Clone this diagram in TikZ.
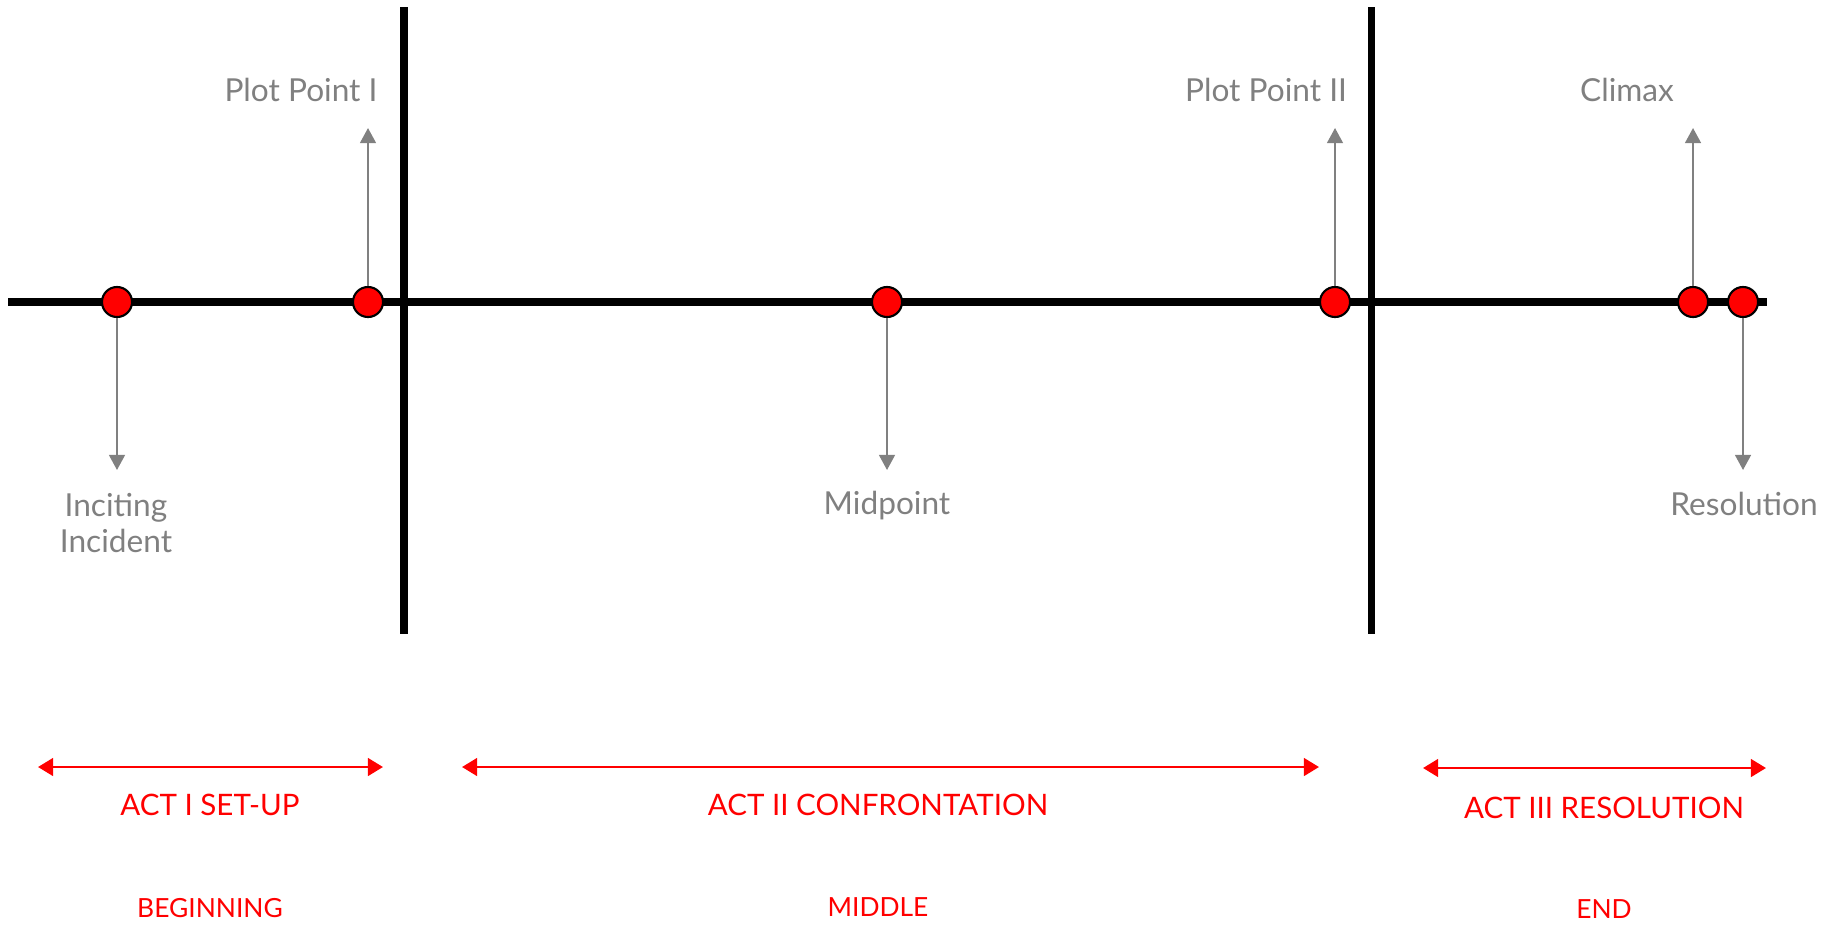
\documentclass[tikz,border=0pt]{standalone}
\usepackage{fontspec}
\setmainfont{Lato}
\usetikzlibrary{arrows.meta,positioning}
\tikzset{>=latex}

\begin{document}
\begin{tikzpicture}[x=0.01cm, y=-0.01cm]
\tikzset{every node/.style={inner sep=0pt, align=center},
dot/.style={circle, draw=black, fill=red, line width=0.6pt, minimum size=0.3cm},
plotlabel/.style={text=gray, font=\fontsize{9}{10.5}\selectfont},
actlabel/.style={text=red, font=\fontsize{8.4}{10}\selectfont},
partlabel/.style={text=red, font=\fontsize{7.5}{9}\selectfont},
pointer/.style={draw=gray, line width=0.6pt, -{Triangle[width=4.5pt,length=4.3pt]}},
actspan/.style={draw=red, line width=0.8pt, {Triangle[width=5pt,length=4.3pt]}-{Triangle[width=5pt,length=4.3pt]}}}
\useasboundingbox (0,0) rectangle (1825,927);
% timeline and act dividers
\coordinate (t0) at (8,302);
\coordinate (t1) at (1767,302);
\coordinate (d1top) at (404,7);
\coordinate (d1bot) at (404,634);
\coordinate (d2top) at (1371,7);
\coordinate (d2bot) at (1371,634);
\draw[line width=2pt] (t0) -- (t1);
\draw[line width=2pt] (d1top) -- (d1bot);
\draw[line width=2pt] (d2top) -- (d2bot);
% story points
\node[dot] (inc) at (117,302) {};
\node[dot] (pp1) at (368,302) {};
\node[dot] (mid) at (887,302) {};
\node[dot] (pp2) at (1335,302) {};
\node[dot] (clx) at (1693,302) {};
\node[dot] (res) at (1743,302) {};
\coordinate (inc-end) at (117,470);
\coordinate (pp1-end) at (368,128);
\coordinate (mid-end) at (887,470);
\coordinate (pp2-end) at (1335,128);
\coordinate (clx-end) at (1693,128);
\coordinate (res-end) at (1743,470);
\draw[pointer] (inc) -- (inc-end);
\draw[pointer] (pp1) -- (pp1-end);
\draw[pointer] (mid) -- (mid-end);
\draw[pointer] (pp2) -- (pp2-end);
\draw[pointer] (clx) -- (clx-end);
\draw[pointer] (res) -- (res-end);
\node[plotlabel] (inc-l) at (116,523) {Inciting\\Incident};
\node[plotlabel] (pp1-l) at (301,90) {Plot Point I};
\node[plotlabel] (mid-l) at (887,506) {Midpoint};
\node[plotlabel] (pp2-l) at (1266,90) {Plot Point II};
\node[plotlabel] (clx-l) at (1627,90) {Climax};
\node[plotlabel] (res-l) at (1744,504) {Resolution};
% acts
\coordinate (a1l) at (38,767);
\coordinate (a1r) at (383,767);
\coordinate (a2l) at (462,767);
\coordinate (a2r) at (1319,767);
\coordinate (a3l) at (1423,768);
\coordinate (a3r) at (1766,768);
\draw[actspan] (a1l) -- (a1r);
\draw[actspan] (a2l) -- (a2r);
\draw[actspan] (a3l) -- (a3r);
\node[actlabel] (act1) at (210,805) {ACT I SET-UP};
\node[actlabel] (act2) at (878,805) {ACT II CONFRONTATION};
\node[actlabel] (act3) at (1604,808) {ACT III RESOLUTION};
\node[partlabel] (beg) at (210,908) {BEGINNING};
\node[partlabel] (midl) at (878,907) {MIDDLE};
\node[partlabel] (endl) at (1604,909) {END};
%\draw[red] (0,0) rectangle (1825,927);
\end{tikzpicture}
\end{document}
